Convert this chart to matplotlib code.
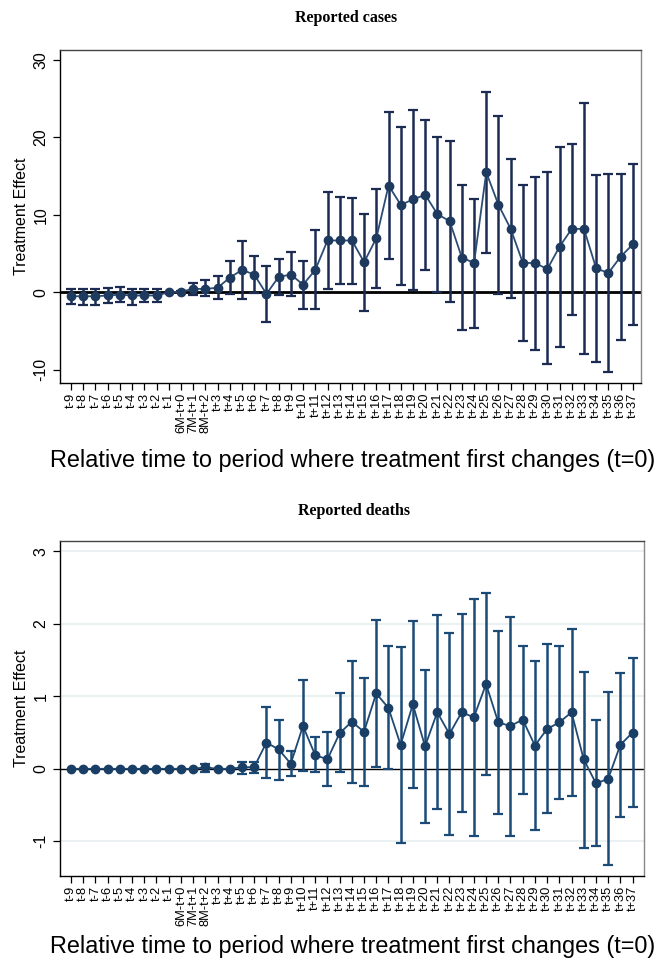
import numpy as np
import matplotlib
matplotlib.use('Agg')
import matplotlib.pyplot as plt

plt.rcParams['font.family'] = ['Liberation Sans', 'DejaVu Sans']

# period labels
periods = ['t-9', 't-8', 't-7', 't-6', 't-5', 't-4', 't-3', 't-2', 't-1',
           '6M-t+0', '7M-t+1', '8M-t+2'] + ['t+%d' % i for i in range(3, 38)]

# reported cases: point estimate and 95% CI
cases_est = [-0.5, -0.5, -0.5, -0.4, -0.3, -0.4, -0.4, -0.4, 0.0, 0.1, 0.45, 0.45,
             0.6, 1.9, 2.9, 2.3, -0.2, 2.0, 2.3, 1.0, 2.9, 6.7, 6.7, 6.7, 3.9, 7.0,
             13.8, 11.3, 12.0, 12.6, 10.1, 9.2, 4.5, 3.8, 15.5, 11.3, 8.2, 3.8, 3.8,
             3.0, 5.9, 8.2, 8.2, 3.1, 2.5, 4.6, 6.2]
cases_lo = [-1.5, -1.6, -1.6, -1.4, -1.3, -1.6, -1.3, -1.3, 0.0, 0.05, -0.4, -0.45,
            -0.9, -0.2, -0.8, -0.1, -3.8, -0.3, -0.5, -2.1, -2.2, 0.5, 1.1, 1.1, -2.4, 0.6,
            4.3, 1.0, 0.3, 2.9, 0.1, -1.2, -4.8, -4.6, 5.1, -0.2, -0.7, -6.3, -7.5,
            -9.3, -7.0, -2.9, -8.0, -9.0, -10.3, -6.2, -4.2]
cases_hi = [0.5, 0.5, 0.5, 0.6, 0.7, 0.5, 0.4, 0.4, 0.0, 0.15, 1.25, 1.55,
            2.1, 4.0, 6.6, 4.7, 3.35, 4.3, 5.2, 4.0, 8.0, 12.9, 12.3, 12.2, 10.1, 13.3,
            23.3, 21.4, 23.6, 22.3, 20.1, 19.6, 13.9, 12.1, 25.9, 22.8, 17.2, 13.9, 14.9,
            15.5, 18.8, 19.1, 24.4, 15.1, 15.3, 15.3, 16.6]

# reported deaths: point estimate and 95% CI
deaths_est = [0, 0, 0, 0, 0, 0, 0, 0, 0, 0, 0, 0.02,
              0, 0, 0.02, 0.023, 0.36, 0.27, 0.07, 0.59, 0.19, 0.13, 0.49, 0.65, 0.51, 1.04,
              0.84, 0.33, 0.89, 0.31, 0.78, 0.48, 0.78, 0.71, 1.17, 0.64, 0.59, 0.68, 0.32,
              0.55, 0.64, 0.78, 0.13, -0.2, -0.14, 0.33, 0.5]
deaths_lo = [0, 0, 0, 0, 0, 0, 0, 0, 0, 0, 0, -0.04,
             0, 0, -0.065, -0.055, -0.13, -0.15, -0.1, -0.03, -0.05, -0.24, -0.05, -0.19, -0.24, 0.03,
             0.0, -1.02, -0.26, -0.75, -0.56, -0.92, -0.59, -0.93, -0.08, -0.62, -0.93, -0.35, -0.85,
             -0.61, -0.42, -0.37, -1.09, -1.07, -1.33, -0.66, -0.53]
deaths_hi = [0, 0, 0, 0, 0, 0, 0, 0, 0, 0, 0, 0.065,
             0, 0, 0.09, 0.1, 0.85, 0.68, 0.24, 1.22, 0.44, 0.51, 1.04, 1.49, 1.25, 2.06,
             1.69, 1.68, 2.04, 1.37, 2.12, 1.87, 2.14, 2.34, 2.43, 1.9, 2.1, 1.69, 1.49,
             1.72, 1.7, 1.93, 1.34, 0.67, 1.06, 1.32, 1.53]


def event_panel(fig, ax, est, lo, hi, title, title_xy, xlab_y, yticks, ylim, xright,
                errc, mkc, linec, zlw, grid):
    x = np.arange(len(periods))
    est = np.array(est)
    lo = np.array(lo)
    hi = np.array(hi)
    has_ci = (hi - lo) > 0
    if grid:
        for yv in yticks:
            if yv != 0:
                ax.axhline(yv, color='#eaf1f3', lw=1.5, zorder=0)
    ax.axhline(0, color='black', lw=zlw, zorder=1)
    ax.errorbar(x[has_ci], est[has_ci],
                yerr=[est[has_ci] - lo[has_ci], hi[has_ci] - est[has_ci]],
                fmt='none', ecolor=errc, elinewidth=1.8, capsize=3.4, capthick=1.6, zorder=2)
    ax.plot(x, est, '-', color=linec, lw=1.3, zorder=3)
    ax.plot(x, est, 'o', color=mkc, ms=6, zorder=4)

    ax.set_xlim(-0.88, xright)
    ax.set_ylim(*ylim)
    ax.set_xticks(x)
    ax.set_xticklabels(periods, rotation=90, fontsize=9.3)
    ax.set_yticks(yticks)
    ax.set_yticklabels([str(v) for v in yticks], rotation=90, va='center', fontsize=11.5)
    ax.tick_params(axis='both', length=5, width=0.9, color='black')
    ax.tick_params(axis='x', pad=2)
    ax.set_ylabel('Treatment Effect', fontsize=11.5, labelpad=3)

    # x label and title placed in figure pixels
    fig.text(353 / 657, 1 - xlab_y / 963,
             'Relative time to period where treatment first changes (t=0)',
             fontsize=16.9, ha='center', va='center')
    fig.text(title_xy[0] / 657, 1 - title_xy[1] / 963, title, fontsize=11.5,
             fontweight='bold', family='Liberation Serif', ha='center', va='center')

    ax.spines['left'].set_color('black')
    ax.spines['bottom'].set_color('black')
    ax.spines['top'].set_color('#444444')
    ax.spines['right'].set_color('#888888')
    for s in ax.spines.values():
        s.set_linewidth(1.0)


fig = plt.figure(figsize=(6.57, 9.63), dpi=100)

ax1 = fig.add_axes([0.0918, 0.6023, 0.884, 0.3458])
event_panel(fig, ax1, cases_est, cases_lo, cases_hi, 'Reported cases', (346, 18), 460,
            [-10, 0, 10, 20, 30], (-11.7, 31.3), 46.68,
            '#1c2b52', '#1e3a5f', '#2c4d74', 2.0, False)

ax2 = fig.add_axes([0.0918, 0.0903, 0.889, 0.3484])
event_panel(fig, ax2, deaths_est, deaths_lo, deaths_hi, 'Reported deaths', (354, 511), 946,
            [-1, 0, 1, 2, 3], (-1.48, 3.15), 46.97,
            '#1b4a77', '#1a3f66', '#1f4a74', 1.0, True)

plt.savefig('out.png', dpi=100)
